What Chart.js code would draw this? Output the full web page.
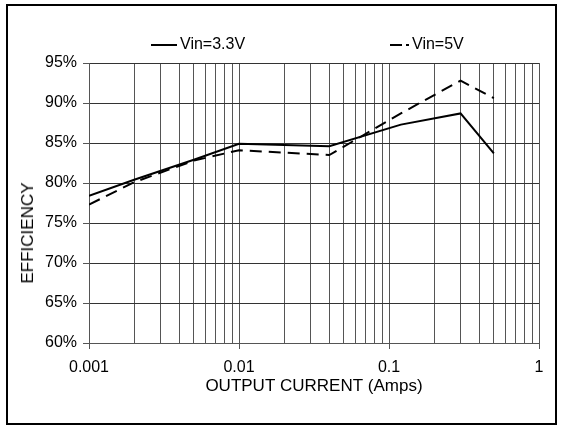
<!DOCTYPE html>
<html>
<head>
<meta charset="utf-8">
<script src="https://cdn.jsdelivr.net/npm/chart.js@4/dist/chart.umd.min.js"></script>
<style>
  body { margin: 0; background: #fff; font-family: "Liberation Sans", Arial, sans-serif; }
  #wrap { position: relative; width: 565px; height: 433px; }
  #frame { position: absolute; left: 6px; top: 4px; width: 551px; height: 421px; border: 2px solid #000; box-sizing: border-box; }
  canvas { position: absolute; left: 0; top: 0; }
  .leg { position: absolute; top: 35px; font-size: 16px; color: #000; line-height: 18px; white-space: nowrap; }
  .leg span { display: inline-block; vertical-align: middle; border-top: 2px solid #000; }
  #ytitle { position: absolute; left: 28px; top: 233px; font-size: 17px; line-height: 20px; white-space: nowrap;
            transform: translate(-50%, -50%) rotate(-90deg); }
</style>
</head>
<body>
<div id="wrap">
  <div id="frame"></div>
  <canvas id="effChart" width="565" height="433"></canvas>
  <div class="leg" style="left:151px"><span style="width:26px;margin-right:3px"></span>Vin=3.3V</div>
  <div class="leg" style="left:390px"><span style="width:12px;margin-right:4px"></span><span style="width:3px;margin-right:3px"></span>Vin=5V</div>
  <div id="ytitle">EFFICIENCY</div>
</div>
<script>
// -------------------------------
// Data
// -------------------------------
const currentAmps = [0.001, 0.002, 0.005, 0.01, 0.04, 0.12, 0.3, 0.5];
const effVin33 = [78.4, 80.4, 82.9, 84.9, 84.6, 87.3, 88.7, 83.7];
const effVin5 = [77.3, 80.1, 82.8, 84.1, 83.5, 88.7, 92.8, 90.6];

const xTickValues = [
  0.001, 0.002, 0.003, 0.004, 0.005, 0.006, 0.007, 0.008, 0.009,
  0.01, 0.02, 0.03, 0.04, 0.05, 0.06, 0.07, 0.08, 0.09,
  0.1, 0.2, 0.3, 0.4, 0.5, 0.6, 0.7, 0.8, 0.9,
  1
];
const xTickLabels = { 0.001: "0.001", 0.01: "0.01", 0.1: "0.1", 1: "1" };
const yTickValues = [60, 65, 70, 75, 80, 85, 90, 95];

// -------------------------------
// Chart
// -------------------------------
const FONT = "'Liberation Sans', Arial, sans-serif";

function toPoints(xs, ys) {
  return xs.map((x, i) => ({ x: x, y: ys[i] }));
}

new Chart(document.getElementById("effChart"), {
  type: "scatter",
  data: {
    datasets: [
      {
        label: "Vin=3.3V",
        data: toPoints(currentAmps, effVin33),
        showLine: true,
        borderColor: "#000",
        borderWidth: 2,
        pointRadius: 0,
        tension: 0
      },
      {
        label: "Vin=5V",
        data: toPoints(currentAmps, effVin5),
        showLine: true,
        borderColor: "#000",
        borderWidth: 2,
        borderDash: [12, 7],
        pointRadius: 0,
        tension: 0
      }
    ]
  },
  options: {
    responsive: false,
    animation: false,
    layout: { padding: { left: 8, top: 63, right: 26, bottom: 0 } },
    plugins: { legend: { display: false }, tooltip: { enabled: false } },
    scales: {
      x: {
        type: "logarithmic",
        min: 0.001,
        max: 1,
        afterBuildTicks: scale => {
          scale.ticks = xTickValues.map(v => ({ value: v, major: v in xTickLabels }));
        },
        afterFit: scale => { scale.height = 433 - 343; },
        grid: {
          color: "#555",
          lineWidth: 1,
          tickLength: 6,
          tickColor: ctx => (ctx.tick && xTickLabels[ctx.tick.value] ? "#555" : "rgba(0,0,0,0)")
        },
        border: { color: "#555" },
        ticks: {
          autoSkip: false,
          maxRotation: 0,
          padding: 9,
          color: "#000",
          font: { family: FONT, size: 16 },
          callback: value => xTickLabels[value] || ""
        },
        title: {
          display: true,
          text: "OUTPUT CURRENT (Amps)",
          color: "#000",
          font: { family: FONT, size: 17 },
          padding: { top: 36, bottom: 36 }
        }
      },
      y: {
        min: 60,
        max: 95,
        afterBuildTicks: scale => {
          scale.ticks = yTickValues.map(v => ({ value: v }));
        },
        afterFit: scale => { scale.width = 89 - 8; },
        grid: { color: "#333", lineWidth: 1, tickLength: 6, tickColor: "#555" },
        border: { color: "#555" },
        ticks: {
          padding: 6,
          color: "#000",
          font: { family: FONT, size: 16 },
          callback: value => value + "%"
        }
      }
    }
  }
});
</script>
</body>
</html>
